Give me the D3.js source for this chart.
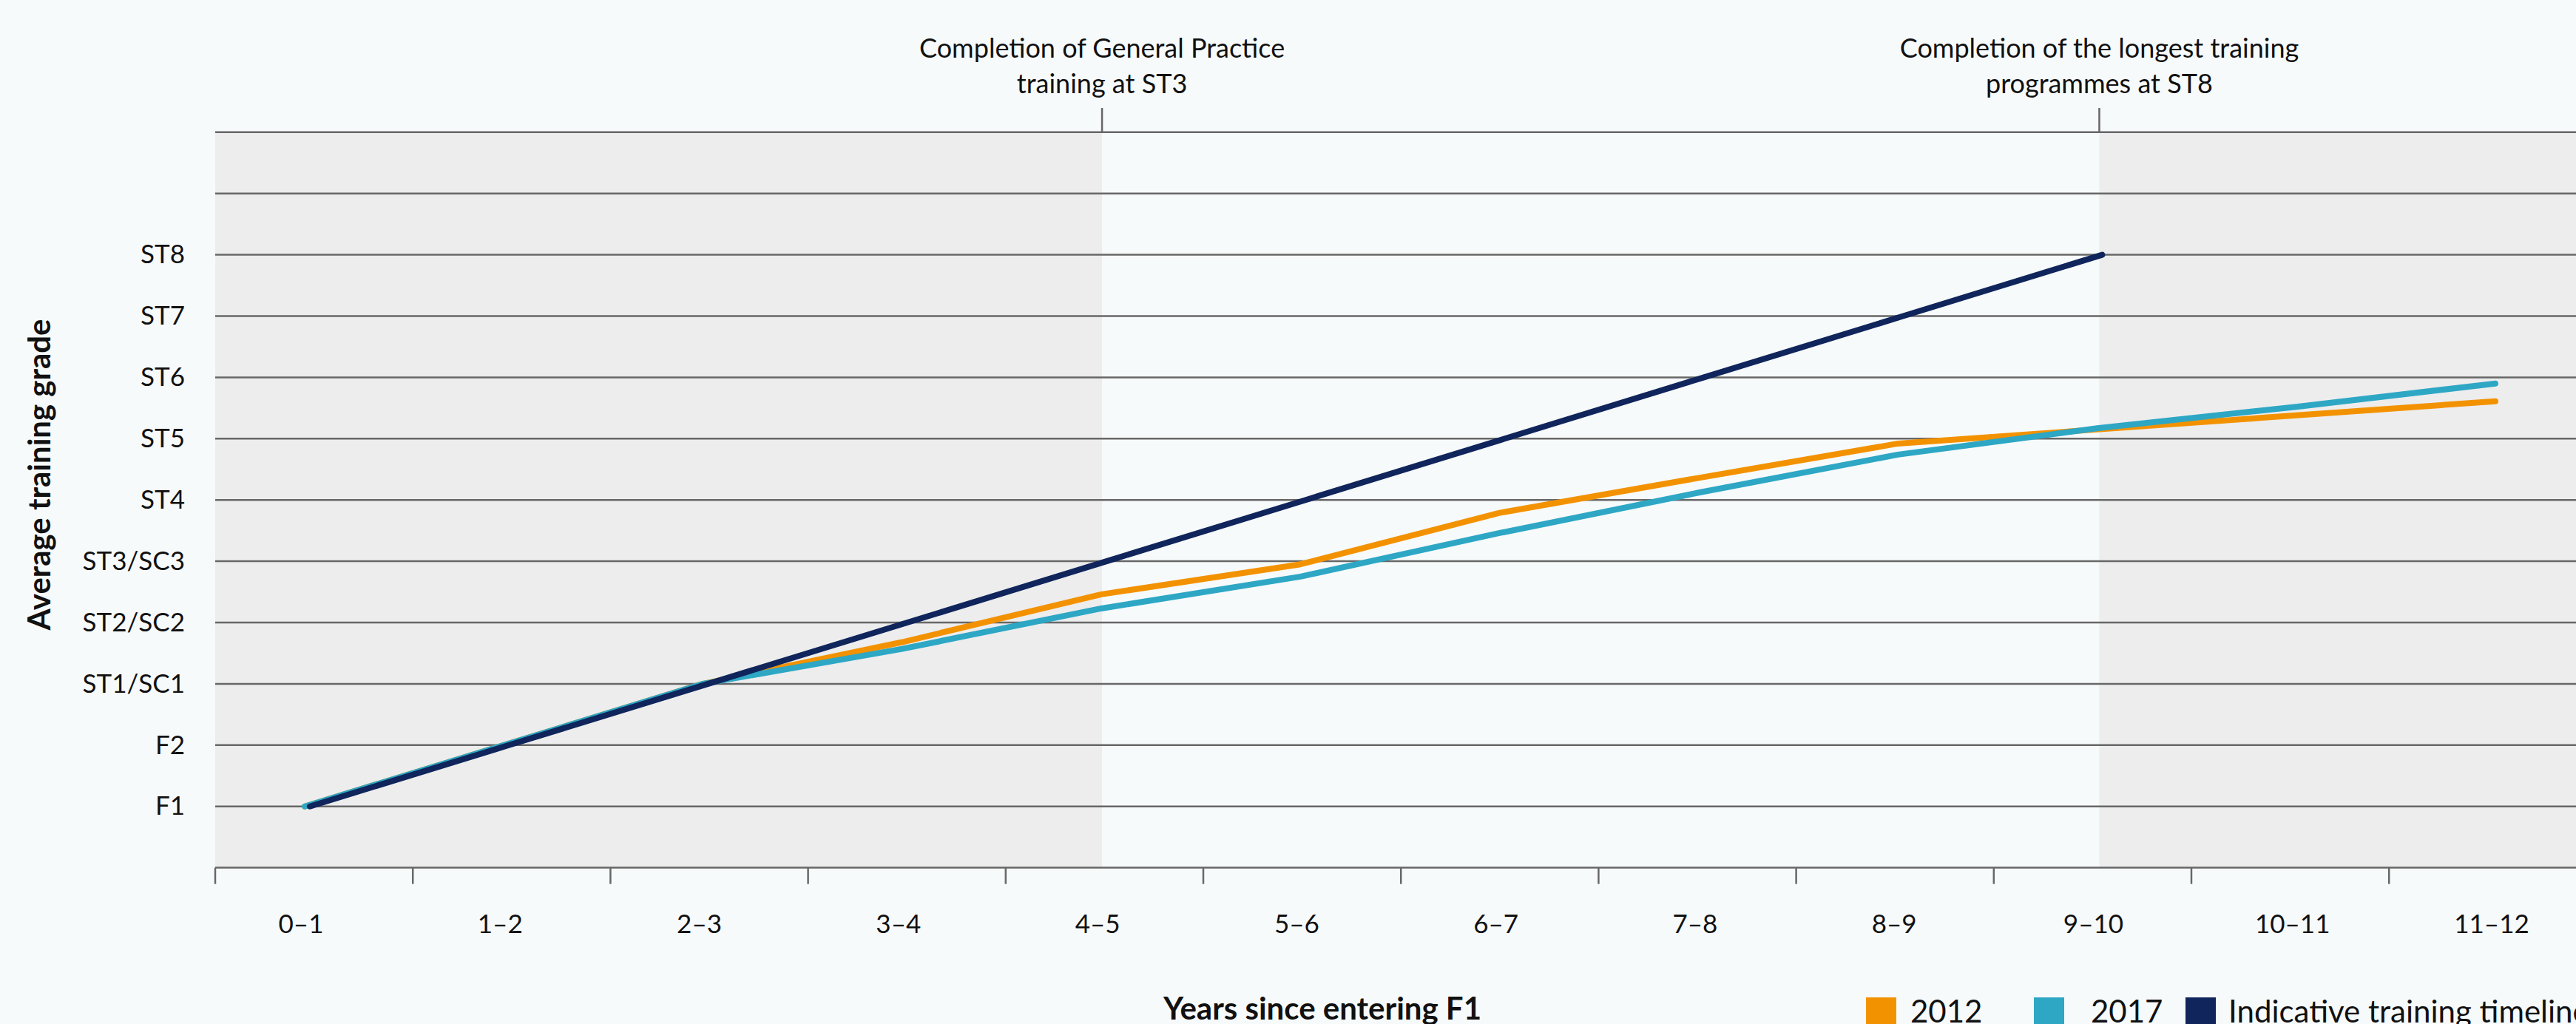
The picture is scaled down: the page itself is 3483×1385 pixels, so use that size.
<!DOCTYPE html>
<html>
<head>
<meta charset="utf-8">
<script src="https://cdn.jsdelivr.net/npm/d3@7"></script>
<style>
  html, body { margin: 0; padding: 0; background: #F7FAFB; overflow: hidden; }
  svg { display: block; }
  text { font-family: Lato, "Open Sans", sans-serif; fill: #111; }
</style>
</head>
<body>
<svg id="chart" width="3483" height="1385"></svg>
<script>
// ---------------- data ----------------
const years = ["0–1","1–2","2–3","3–4","4–5","5–6","6–7","7–8","8–9","9–10","10–11","11–12"];
const gradeLabels = ["F1","F2","ST1/SC1","ST2/SC2","ST3/SC3","ST4","ST5","ST6","ST7","ST8"];
const gridLevels = [0,1,2,3,4,5,6,7,8,9,10,11];
const values2012 = [0, 1, 2, 2.68, 3.46, 3.95, 4.79, 5.36, 5.92, 6.15, 6.38, 6.61];
const values2017 = [0, 1, 2, 2.57, 3.23, 3.75, 4.46, 5.12, 5.74, 6.17, 6.52, 6.90];
const valuesIndicative = [0, 1, 2, 3, 4, 5, 6, 7, 8, 9, null, null];
const seriesNames = ["2012", "2017", "Indicative training timeline"];
const seriesColors = ["#F39200", "#2EA7C5", "#0F255B"];
const annotationYears = ["4–5", "9–10"];
const annotationLines = [
  ["Completion of General Practice", "training at ST3"],
  ["Completion of the longest training", "programmes at ST8"]
];
const xTitle = "Years since entering F1";
const yTitle = "Average training grade";

// ---------------- layout ----------------
const W = 3483, H = 1385;
const plotLeft = 291, plotRight = W;
const svg = d3.select("#chart");

const y = d3.scaleLinear().domain([-1, 11]).range([1173.6, 178.8]);
const xPoint = d3.scalePoint().domain(years).range([412, 3374]);
const xBand = d3.scaleBand().domain(years).range([291, 291 + 12 * 267.2]);

// background
svg.append("rect").attr("width", W).attr("height", H).attr("fill", "#F7FAFB");

// grey shaded regions (before GP completion and after longest programmes)
const shade = svg.append("g");
shade.append("rect")
  .attr("x", plotLeft).attr("y", y(11))
  .attr("width", xPoint(annotationYears[0]) + 1 - plotLeft)
  .attr("height", y(-1) - y(11))
  .attr("fill", "#EDEDED");
shade.append("rect")
  .attr("x", xPoint(annotationYears[1]) + 3).attr("y", y(11))
  .attr("width", plotRight - xPoint(annotationYears[1]) - 3)
  .attr("height", y(-1) - y(11))
  .attr("fill", "#EDEDED");

// gridlines
svg.append("g").selectAll("line").data(gridLevels).join("line")
  .attr("x1", plotLeft).attr("x2", plotRight)
  .attr("y1", d => y(d)).attr("y2", d => y(d))
  .attr("stroke", "#676767").attr("stroke-width", 2.5);

// bottom axis line + ticks
svg.append("line")
  .attr("x1", plotLeft).attr("x2", plotRight)
  .attr("y1", y(-1)).attr("y2", y(-1))
  .attr("stroke", "#676767").attr("stroke-width", 2.5);
svg.append("g").selectAll("line").data(years).join("line")
  .attr("x1", d => xBand(d)).attr("x2", d => xBand(d))
  .attr("y1", y(-1)).attr("y2", y(-1) + 22)
  .attr("stroke", "#676767").attr("stroke-width", 2.5);

// x tick labels
svg.append("g").selectAll("text").data(years).join("text")
  .attr("x", d => xPoint(d) - 5).attr("y", 1262)
  .attr("text-anchor", "middle")
  .style("font-size", "35px")
  .text(d => d);

// y tick labels
const yAxis = d3.axisLeft(y)
  .tickValues(d3.range(gradeLabels.length))
  .tickFormat(i => gradeLabels[i])
  .tickSize(0).tickPadding(0);
const yg = svg.append("g").attr("transform", `translate(250,0)`).call(yAxis);
yg.select(".domain").remove();
yg.selectAll("text")
  .style("font-family", "Lato, 'Open Sans', sans-serif")
  .style("font-size", "35px").attr("fill", "#111");

// annotations
annotationYears.forEach((yr, k) => {
  const ax = xPoint(yr) + (k === 0 ? 1 : 3);
  svg.append("line")
    .attr("x1", ax).attr("x2", ax).attr("y1", 146).attr("y2", y(11))
    .attr("stroke", "#676767").attr("stroke-width", 2.5);
  const t = svg.append("text").attr("text-anchor", "middle").style("font-size", "36px");
  annotationLines[k].forEach((ln, j) => {
    t.append("tspan").attr("x", ax).attr("y", 78 + j * 48).text(ln);
  });
});

// lines
const line = d3.line()
  .defined(d => d != null)
  .x((d, i) => xPoint(years[i]))
  .y(d => y(d));
const allSeries = [values2012, values2017, valuesIndicative];
svg.append("g").selectAll("path").data(allSeries).join("path")
  .attr("d", d => line(d))
  .attr("transform", (d, i) => i === 2 ? "translate(7,0)" : null)
  .attr("fill", "none")
  .attr("stroke", (d, i) => seriesColors[i])
  .attr("stroke-width", 8)
  .attr("stroke-linecap", "round")
  .attr("stroke-linejoin", "round");

// axis titles
svg.append("text")
  .attr("x", 1788).attr("y", 1379)
  .attr("text-anchor", "middle")
  .style("font-size", "42px").style("font-weight", "700")
  .text(xTitle);
svg.append("text")
  .attr("transform", "translate(68,642) rotate(-90)")
  .attr("text-anchor", "middle")
  .style("font-size", "42px").style("font-weight", "700")
  .text(yTitle);

// legend
const legendX = [2523, 2750, 2955];
const lg = svg.append("g").selectAll("g").data(seriesNames).join("g")
  .attr("transform", (d, i) => `translate(${legendX[i]},1349)`);
lg.append("rect").attr("width", 41).attr("height", 41)
  .attr("fill", (d, i) => seriesColors[i]);
lg.append("text").attr("x", (d, i) => [60, 77, 58][i]).attr("y", 34)
  .style("font-size", "42px").text(d => d);
</script>
</body>
</html>
